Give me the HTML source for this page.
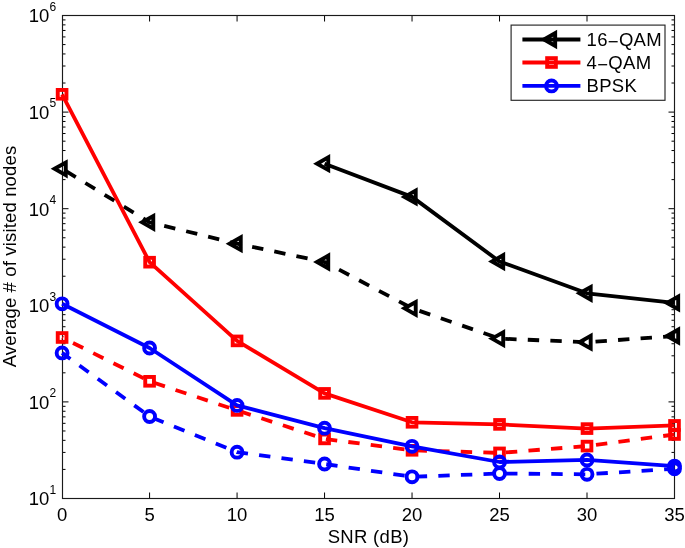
<!DOCTYPE html>
<html><head><meta charset="utf-8"><style>html,body{margin:0;padding:0;background:#fff;width:685px;height:548px;overflow:hidden}body{position:relative;font-family:"Liberation Sans",sans-serif}</style></head><body>
<svg width="685" height="548" viewBox="0 0 685 548" style="position:absolute;left:0;top:0;will-change:transform">
<rect x="0" y="0" width="685" height="548" fill="#fff"/>
<path d="M149.59 498.5v-6M149.59 15.5v6M237.07 498.5v-6M237.07 15.5v6M324.56 498.5v-6M324.56 15.5v6M412.04 498.5v-6M412.04 15.5v6M499.53 498.5v-6M499.53 15.5v6M587.01 498.5v-6M587.01 15.5v6M62.5 469.42h3M674.5 469.42h-3M62.5 452.41h3M674.5 452.41h-3M62.5 440.34h3M674.5 440.34h-3M62.5 430.98h3M674.5 430.98h-3M62.5 423.33h3M674.5 423.33h-3M62.5 416.86h3M674.5 416.86h-3M62.5 411.26h3M674.5 411.26h-3M62.5 406.32h3M674.5 406.32h-3M62.5 401.90h6M674.5 401.90h-6M62.5 372.82h3M674.5 372.82h-3M62.5 355.81h3M674.5 355.81h-3M62.5 343.74h3M674.5 343.74h-3M62.5 334.38h3M674.5 334.38h-3M62.5 326.73h3M674.5 326.73h-3M62.5 320.26h3M674.5 320.26h-3M62.5 314.66h3M674.5 314.66h-3M62.5 309.72h3M674.5 309.72h-3M62.5 305.30h6M674.5 305.30h-6M62.5 276.22h3M674.5 276.22h-3M62.5 259.21h3M674.5 259.21h-3M62.5 247.14h3M674.5 247.14h-3M62.5 237.78h3M674.5 237.78h-3M62.5 230.13h3M674.5 230.13h-3M62.5 223.66h3M674.5 223.66h-3M62.5 218.06h3M674.5 218.06h-3M62.5 213.12h3M674.5 213.12h-3M62.5 208.70h6M674.5 208.70h-6M62.5 179.62h3M674.5 179.62h-3M62.5 162.61h3M674.5 162.61h-3M62.5 150.54h3M674.5 150.54h-3M62.5 141.18h3M674.5 141.18h-3M62.5 133.53h3M674.5 133.53h-3M62.5 127.06h3M674.5 127.06h-3M62.5 121.46h3M674.5 121.46h-3M62.5 116.52h3M674.5 116.52h-3M62.5 112.10h6M674.5 112.10h-6M62.5 83.02h3M674.5 83.02h-3M62.5 66.01h3M674.5 66.01h-3M62.5 53.94h3M674.5 53.94h-3M62.5 44.58h3M674.5 44.58h-3M62.5 36.93h3M674.5 36.93h-3M62.5 30.46h3M674.5 30.46h-3M62.5 24.86h3M674.5 24.86h-3M62.5 19.92h3M674.5 19.92h-3" stroke="#000" stroke-width="1" fill="none"/>
<rect x="62.5" y="15.5" width="612.0" height="483.0" fill="none" stroke="#1a1a1a" stroke-width="1.15"/>
<g font-family="Liberation Sans, sans-serif" font-size="18.5" fill="#000"><text x="62.10" y="521.4" text-anchor="middle" font-size="18.5">0</text><text x="149.59" y="521.4" text-anchor="middle" font-size="18.5">5</text><text x="237.07" y="521.4" text-anchor="middle" font-size="18.5">10</text><text x="324.56" y="521.4" text-anchor="middle" font-size="18.5">15</text><text x="412.04" y="521.4" text-anchor="middle" font-size="18.5">20</text><text x="499.53" y="521.4" text-anchor="middle" font-size="18.5">25</text><text x="587.01" y="521.4" text-anchor="middle" font-size="18.5">30</text><text x="674.50" y="521.4" text-anchor="middle" font-size="18.5">35</text><text x="49.3" y="505.30" text-anchor="end" font-size="18.5">10</text><text x="49.6" y="493.70" font-size="12">1</text><text x="49.3" y="408.70" text-anchor="end" font-size="18.5">10</text><text x="49.6" y="397.10" font-size="12">2</text><text x="49.3" y="312.10" text-anchor="end" font-size="18.5">10</text><text x="49.6" y="300.50" font-size="12">3</text><text x="49.3" y="215.50" text-anchor="end" font-size="18.5">10</text><text x="49.6" y="203.90" font-size="12">4</text><text x="49.3" y="118.90" text-anchor="end" font-size="18.5">10</text><text x="49.6" y="107.30" font-size="12">5</text><text x="49.3" y="22.30" text-anchor="end" font-size="18.5">10</text><text x="49.6" y="10.70" font-size="12">6</text><text x="368.5" y="543.4" text-anchor="middle" letter-spacing="0.3">SNR (dB)</text><text transform="translate(16.2 256.5) rotate(-90)" text-anchor="middle" letter-spacing="0.15">Average # of visited nodes</text></g>
<polyline points="324.56,163.70 412.04,196.90 499.53,261.50 587.01,293.30 674.50,302.90" fill="none" stroke="#000" stroke-width="3.8" stroke-linejoin="round"/>
<polygon points="317.06,163.70 328.24,157.40 328.24,170.00" fill="none" stroke="#000" stroke-width="3.9" stroke-linejoin="miter"/>
<polygon points="404.54,196.90 415.72,190.60 415.72,203.20" fill="none" stroke="#000" stroke-width="3.9" stroke-linejoin="miter"/>
<polygon points="492.03,261.50 503.21,255.20 503.21,267.80" fill="none" stroke="#000" stroke-width="3.9" stroke-linejoin="miter"/>
<polygon points="579.51,293.30 590.69,287.00 590.69,299.60" fill="none" stroke="#000" stroke-width="3.9" stroke-linejoin="miter"/>
<polygon points="667.00,302.90 678.18,296.60 678.18,309.20" fill="none" stroke="#000" stroke-width="3.9" stroke-linejoin="miter"/>
<polyline points="674.50,336.00 587.01,342.20 499.53,338.60 412.04,308.30 324.56,262.00 237.07,243.70 149.59,222.30 62.10,168.80" fill="none" stroke="#000" stroke-width="3.8" stroke-dasharray="11.4 11.2" stroke-dashoffset="0" stroke-linejoin="round"/>
<polygon points="54.60,168.80 65.78,162.50 65.78,175.10" fill="none" stroke="#000" stroke-width="3.9" stroke-linejoin="miter"/>
<polygon points="142.09,222.30 153.27,216.00 153.27,228.60" fill="none" stroke="#000" stroke-width="3.9" stroke-linejoin="miter"/>
<polygon points="229.57,243.70 240.75,237.40 240.75,250.00" fill="none" stroke="#000" stroke-width="3.9" stroke-linejoin="miter"/>
<polygon points="317.06,262.00 328.24,255.70 328.24,268.30" fill="none" stroke="#000" stroke-width="3.9" stroke-linejoin="miter"/>
<polygon points="404.54,308.30 415.72,302.00 415.72,314.60" fill="none" stroke="#000" stroke-width="3.9" stroke-linejoin="miter"/>
<polygon points="492.03,338.60 503.21,332.30 503.21,344.90" fill="none" stroke="#000" stroke-width="3.9" stroke-linejoin="miter"/>
<polygon points="579.51,342.20 590.69,335.90 590.69,348.50" fill="none" stroke="#000" stroke-width="3.9" stroke-linejoin="miter"/>
<polygon points="667.00,336.00 678.18,329.70 678.18,342.30" fill="none" stroke="#000" stroke-width="3.9" stroke-linejoin="miter"/>
<polyline points="62.10,94.30 149.59,262.20 237.07,340.90 324.56,393.40 412.04,422.30 499.53,424.40 587.01,428.60 674.50,425.40" fill="none" stroke="#f00" stroke-width="3.8" stroke-linejoin="round"/>
<rect x="57.75" y="89.95" width="8.70" height="8.70" fill="none" stroke="#f00" stroke-width="3.9"/>
<rect x="145.24" y="257.85" width="8.70" height="8.70" fill="none" stroke="#f00" stroke-width="3.9"/>
<rect x="232.72" y="336.55" width="8.70" height="8.70" fill="none" stroke="#f00" stroke-width="3.9"/>
<rect x="320.21" y="389.05" width="8.70" height="8.70" fill="none" stroke="#f00" stroke-width="3.9"/>
<rect x="407.69" y="417.95" width="8.70" height="8.70" fill="none" stroke="#f00" stroke-width="3.9"/>
<rect x="495.18" y="420.05" width="8.70" height="8.70" fill="none" stroke="#f00" stroke-width="3.9"/>
<rect x="582.66" y="424.25" width="8.70" height="8.70" fill="none" stroke="#f00" stroke-width="3.9"/>
<rect x="670.15" y="421.05" width="8.70" height="8.70" fill="none" stroke="#f00" stroke-width="3.9"/>
<polyline points="674.50,434.50 587.01,446.10 499.53,452.90 412.04,450.30 324.56,438.90 237.07,410.40 149.59,381.30 62.10,337.50" fill="none" stroke="#f00" stroke-width="3.8" stroke-dasharray="11.4 11.2" stroke-dashoffset="0" stroke-linejoin="round"/>
<rect x="57.75" y="333.15" width="8.70" height="8.70" fill="none" stroke="#f00" stroke-width="3.9"/>
<rect x="145.24" y="376.95" width="8.70" height="8.70" fill="none" stroke="#f00" stroke-width="3.9"/>
<rect x="232.72" y="406.05" width="8.70" height="8.70" fill="none" stroke="#f00" stroke-width="3.9"/>
<rect x="320.21" y="434.55" width="8.70" height="8.70" fill="none" stroke="#f00" stroke-width="3.9"/>
<rect x="407.69" y="445.95" width="8.70" height="8.70" fill="none" stroke="#f00" stroke-width="3.9"/>
<rect x="495.18" y="448.55" width="8.70" height="8.70" fill="none" stroke="#f00" stroke-width="3.9"/>
<rect x="582.66" y="441.75" width="8.70" height="8.70" fill="none" stroke="#f00" stroke-width="3.9"/>
<rect x="670.15" y="430.15" width="8.70" height="8.70" fill="none" stroke="#f00" stroke-width="3.9"/>
<polyline points="62.10,303.80 149.59,348.00 237.07,405.40 324.56,428.20 412.04,446.30 499.53,462.00 587.01,459.90 674.50,466.10" fill="none" stroke="#00f" stroke-width="3.8" stroke-linejoin="round"/>
<circle cx="62.10" cy="303.80" r="5.45" fill="none" stroke="#00f" stroke-width="3.9"/>
<circle cx="149.59" cy="348.00" r="5.45" fill="none" stroke="#00f" stroke-width="3.9"/>
<circle cx="237.07" cy="405.40" r="5.45" fill="none" stroke="#00f" stroke-width="3.9"/>
<circle cx="324.56" cy="428.20" r="5.45" fill="none" stroke="#00f" stroke-width="3.9"/>
<circle cx="412.04" cy="446.30" r="5.45" fill="none" stroke="#00f" stroke-width="3.9"/>
<circle cx="499.53" cy="462.00" r="5.45" fill="none" stroke="#00f" stroke-width="3.9"/>
<circle cx="587.01" cy="459.90" r="5.45" fill="none" stroke="#00f" stroke-width="3.9"/>
<circle cx="674.50" cy="466.10" r="5.45" fill="none" stroke="#00f" stroke-width="3.9"/>
<polyline points="674.50,468.80 587.01,474.30 499.53,473.50 412.04,476.80 324.56,464.00 237.07,452.20 149.59,416.50 62.10,352.90" fill="none" stroke="#00f" stroke-width="3.8" stroke-dasharray="11.4 11.2" stroke-dashoffset="1.0" stroke-linejoin="round"/>
<circle cx="62.10" cy="352.90" r="5.45" fill="none" stroke="#00f" stroke-width="3.9"/>
<circle cx="149.59" cy="416.50" r="5.45" fill="none" stroke="#00f" stroke-width="3.9"/>
<circle cx="237.07" cy="452.20" r="5.45" fill="none" stroke="#00f" stroke-width="3.9"/>
<circle cx="324.56" cy="464.00" r="5.45" fill="none" stroke="#00f" stroke-width="3.9"/>
<circle cx="412.04" cy="476.80" r="5.45" fill="none" stroke="#00f" stroke-width="3.9"/>
<circle cx="499.53" cy="473.50" r="5.45" fill="none" stroke="#00f" stroke-width="3.9"/>
<circle cx="587.01" cy="474.30" r="5.45" fill="none" stroke="#00f" stroke-width="3.9"/>
<circle cx="674.50" cy="468.80" r="5.45" fill="none" stroke="#00f" stroke-width="3.9"/>
<rect x="511.1" y="25.1" width="153.90" height="75.20" fill="#fff" stroke="#262626" stroke-width="1.15"/>
<line x1="522.4" y1="39.5" x2="580.4" y2="39.5" stroke="#000" stroke-width="3.8"/>
<polygon points="544.00,39.50 555.18,33.20 555.18,45.80" fill="none" stroke="#000" stroke-width="3.9" stroke-linejoin="miter"/>
<line x1="522.4" y1="62.5" x2="580.4" y2="62.5" stroke="#f00" stroke-width="3.8"/>
<rect x="547.15" y="58.15" width="8.70" height="8.70" fill="none" stroke="#f00" stroke-width="3.9"/>
<line x1="522.4" y1="85.9" x2="580.4" y2="85.9" stroke="#00f" stroke-width="3.8"/>
<circle cx="551.50" cy="85.90" r="5.45" fill="none" stroke="#00f" stroke-width="3.9"/>
<g font-family="Liberation Sans, sans-serif" font-size="18.5" fill="#000"><text x="586.6" y="45.8" letter-spacing="0.3">16<tspan dy="1.8">−</tspan><tspan dy="-1.8">QAM</tspan></text><text x="586.6" y="69.1" letter-spacing="0.3">4<tspan dy="1.8">−</tspan><tspan dy="-1.8">QAM</tspan></text><text x="586.6" y="92.0" letter-spacing="0.3">BPSK</text></g>
</svg>
</body></html>
